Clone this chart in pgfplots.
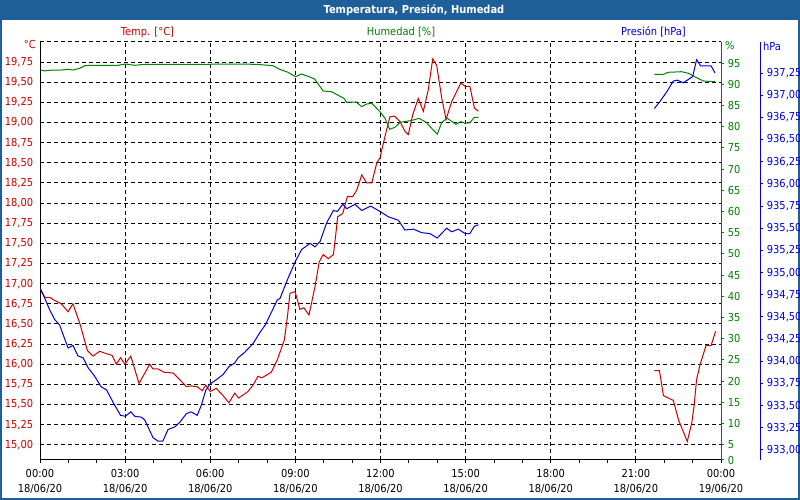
\documentclass[border=0pt]{standalone}
\usepackage{pgfplots}
\pgfplotsset{compat=1.18}
\usepackage{fontspec}
\setmainfont{DejaVu Sans Condensed}
\definecolor{tbar}{RGB}{31,95,153}
\definecolor{tred}{RGB}{204,0,0}
\definecolor{tgreen}{RGB}{0,128,0}
\definecolor{tblue}{RGB}{0,0,220}
\begin{document}
\fontsize{11}{13}\selectfont
\begin{tikzpicture}[x=1pt,y=1pt]
\useasboundingbox (0,0) rectangle (800,500);
\fill[white] (0,0) rectangle (800,500);
\fill[tbar] (0,480) rectangle (800,500);
\draw[tbar, line width=2pt] (1,1) rectangle (799,499);
\node[font=\fontsize{11}{13}\selectfont\bfseries, text=white] at (414,490) {Temperatura, Presión, Humedad};
\node[text=tred] at (147.5,468) {Temp. [°C]};
\node[text=tgreen] at (401,468) {Humedad [\%]};
\node[text=tblue] at (653.5,468) {Presión [hPa]};
\node[text=tred, anchor=east, inner sep=0pt] at (36,455) {°C};
\node[text=tgreen, anchor=west, inner sep=0pt] at (725,454) {\%};
\node[text=tblue, anchor=west, inner sep=0pt] at (763,454) {hPa};

% Temperature axis
\begin{axis}[
  at={(40pt,40pt)}, anchor=south west, scale only axis,
  width=681pt, height=418pt,
  xmin=0, xmax=24, ymin=14.81, ymax=20,
  axis x line*=bottom, axis y line*=left,
  axis line style={black, line width=1pt},
  xtick={0,3,6,9,12,15,18,21,24},
  minor xtick={0,1,...,24},
  xticklabels={{00:00\\18/06/20},{03:00\\18/06/20},{06:00\\18/06/20},{09:00\\18/06/20},{12:00\\18/06/20},{15:00\\18/06/20},{18:00\\18/06/20},{21:00\\18/06/20},{00:00\\19/06/20}},
  xticklabel style={align=center, text=black, font=\fontsize{11}{15}\selectfont, yshift=-2pt},
  ytick={15,15.25,15.5,15.75,16,16.25,16.5,16.75,17,17.25,17.5,17.75,18,18.25,18.5,18.75,19,19.25,19.5,19.75,20},
  yticklabels={{15,00},{15,25},{15,50},{15,75},{16,00},{16,25},{16,50},{16,75},{17,00},{17,25},{17,50},{17,75},{18,00},{18,25},{18,50},{18,75},{19,00},{19,25},{19,50},{19,75},{}},
  yticklabel style={text=tred},
  grid=major,
  major grid style={black, line width=1pt, dash pattern=on 4pt off 3pt},
  tick style={black, line width=1pt},
  major tick length=3pt, minor tick length=3pt, tick align=outside,
  ytick style={draw=none},
  unbounded coords=jump,
  /pgf/number format/assume math mode=true,
]
\addplot[tred, line width=1pt, no marks] coordinates {
(0.02,16.93)(0.17,16.83)(0.34,16.83)(0.52,16.79)(0.75,16.75)(0.99,16.65)(1.16,16.75)(1.40,16.51)
(1.67,16.17)(1.87,16.10)(2.10,16.16)(2.34,16.13)(2.54,16.11)(2.69,16.00)(2.84,16.08)(2.99,16.00)
(3.20,16.10)(3.49,15.76)(3.87,16.00)(3.98,15.94)(4.16,15.94)(4.37,15.90)(4.69,15.89)(4.92,15.81)
(5.16,15.72)(5.31,15.73)(5.54,15.72)(5.72,15.67)(5.84,15.74)(6.00,15.66)(6.21,15.70)(6.45,15.61)
(6.66,15.52)(6.86,15.64)(7.00,15.58)(7.33,15.66)(7.51,15.74)(7.68,15.85)(7.82,15.83)(8.15,15.90)
(8.36,16.05)(8.61,16.30)(8.72,16.59)(8.81,16.88)(8.99,16.90)(9.16,16.68)(9.30,16.70)(9.48,16.61)
(9.69,16.96)(9.84,17.27)(9.98,17.36)(10.16,17.31)(10.34,17.36)(10.43,17.63)(10.49,17.83)(10.67,17.87)
(10.83,18.08)(11.02,18.08)(11.16,18.16)(11.34,18.35)(11.51,18.25)(11.69,18.25)(11.87,18.50)(11.98,18.56)
(12.16,18.83)(12.33,19.07)(12.49,19.08)(12.69,19.01)(12.86,18.89)(12.98,18.85)(13.13,19.09)(13.33,19.30)
(13.51,19.14)(13.68,19.40)(13.84,19.79)(13.98,19.71)(14.16,19.30)(14.31,19.04)(14.51,19.26)(14.83,19.49)
(14.98,19.45)(15.15,19.45)(15.31,19.18)(15.45,19.14)
(18,nan)
(21.65,15.92)(21.83,15.92)(21.97,15.61)(22.14,15.58)(22.32,15.55)(22.50,15.31)(22.81,15.04)(22.97,15.27)
(23.05,15.48)(23.14,15.81)(23.26,15.99)(23.47,16.23)(23.65,16.23)(23.81,16.41)
};
\end{axis}

% Humidity axis
\begin{axis}[
  at={(40pt,40pt)}, anchor=south west, scale only axis,
  width=681pt, height=418pt,
  xmin=0, xmax=24, ymin=1.4, ymax=100,
  axis x line=none, axis y line*=right,
  axis line style={tgreen, line width=1pt},
  ytick={1.4,5,10,15,20,25,30,35,40,45,50,55,60,65,70,75,80,85,90,95},
  yticklabels={0,5,10,15,20,25,30,35,40,45,50,55,60,65,70,75,80,85,90,95},
  yticklabel style={text=tgreen},
  tick style={tgreen, line width=1pt},
  major tick length=3pt, tick align=outside,
  unbounded coords=jump,
  /pgf/number format/assume math mode=true,
]
\addplot[tgreen, line width=1pt, no marks] coordinates {
(0.02,93.39)(0.17,93.16)(0.28,93.32)(0.75,93.39)(0.99,93.56)(1.16,93.39)(1.40,93.80)(1.58,94.41)
(1.81,94.50)(2.75,94.50)(3.01,94.81)(3.34,94.50)(3.69,94.74)(5.98,94.74)(6.27,94.81)(7.62,94.74)
(8.21,94.41)(8.45,93.56)(8.74,92.85)(9.01,91.81)(9.21,92.45)(9.42,91.98)(9.68,91.27)(9.98,88.44)
(10.27,88.28)(10.71,86.72)(10.81,85.78)(11.14,85.85)(11.34,84.74)(11.51,85.37)(11.69,85.54)(11.98,83.56)
(12.16,82.00)(12.32,79.41)(12.51,79.88)(12.69,81.06)(12.98,81.36)(13.16,81.60)(13.36,82.00)(13.63,80.96)
(13.80,79.64)(14.00,78.23)(14.16,81.06)(14.35,82.00)(14.66,80.59)(14.83,81.20)(14.98,80.82)(15.15,80.96)
(15.31,82.24)(15.45,82.24)
(18,nan)
(21.65,92.38)(21.97,92.38)(22.14,92.85)(22.61,92.99)(22.85,92.62)(23.14,91.58)(23.38,90.80)(23.79,90.63)
};
\end{axis}

% Pressure axis
\begin{axis}[
  at={(40pt,40pt)}, anchor=south west, scale only axis,
  width=720pt, height=418pt,
  xmin=0, xmax=25.374, ymin=932.887, ymax=937.60,
  axis x line=none, axis y line*=right,
  axis line style={tblue, line width=1pt},
  ytick={933,933.25,933.5,933.75,934,934.25,934.5,934.75,935,935.25,935.5,935.75,936,936.25,936.5,936.75,937,937.25},
  yticklabels={{933,00},{933,25},{933,50},{933,75},{934,00},{934,25},{934,50},{934,75},{935,00},{935,25},{935,50},{935,75},{936,00},{936,25},{936,50},{936,75},{937,00},{937,25}},
  yticklabel style={text=tblue},
  tick style={tblue, line width=1pt},
  major tick length=3pt, tick align=outside,
  unbounded coords=jump,
  /pgf/number format/assume math mode=true,
]
\addplot[tblue, line width=1pt, no marks] coordinates {
(0.02,934.81)(0.17,934.71)(0.34,934.58)(0.52,934.47)(0.69,934.41)(0.85,934.27)(0.99,934.15)(1.16,934.18)
(1.34,934.06)(1.52,934.04)(1.69,933.93)(1.93,933.83)(2.16,933.71)(2.34,933.68)(2.57,933.54)(2.84,933.39)
(3.01,933.38)(3.20,933.43)(3.34,933.38)(3.57,933.37)(3.69,933.34)(3.98,933.14)(4.16,933.10)(4.33,933.10)
(4.51,933.23)(4.75,933.26)(4.92,933.31)(5.16,933.41)(5.33,933.43)(5.54,933.39)(5.68,933.50)(5.84,933.67)
(5.98,933.74)(6.16,933.78)(6.45,933.85)(6.66,933.94)(6.86,933.98)(6.98,934.04)(7.21,934.10)(7.51,934.20)
(7.74,934.32)(7.94,934.41)(8.15,934.55)(8.36,934.69)(8.46,934.71)(8.72,934.92)(8.99,935.12)(9.22,935.26)
(9.52,935.33)(9.69,935.29)(9.87,935.35)(10.10,935.56)(10.34,935.70)(10.48,935.69)(10.67,935.77)(10.81,935.72)
(11.10,935.77)(11.34,935.70)(11.65,935.75)(11.98,935.69)(12.27,935.63)(12.63,935.59)(12.86,935.48)(13.16,935.49)
(13.45,935.45)(13.74,935.44)(14.00,935.39)(14.33,935.50)(14.51,935.46)(14.74,935.49)(14.98,935.44)(15.15,935.44)
(15.30,935.52)(15.45,935.54)
(18,nan)
(21.65,936.85)(21.85,936.93)(22.09,937.04)(22.32,937.16)(22.46,937.17)(22.67,937.14)(23.00,937.21)(23.14,937.40)
(23.28,937.33)(23.65,937.33)(23.79,937.25)
};
\end{axis}
\end{tikzpicture}
\end{document}
